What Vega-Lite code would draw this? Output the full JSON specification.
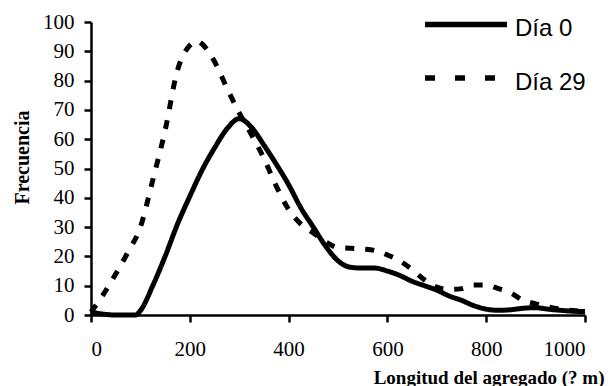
{
  "$schema": "https://vega.github.io/schema/vega-lite/v6.json",
  "width": 494,
  "height": 293,
  "autosize": {"type": "none"},
  "padding": {"left": 91, "top": 22, "right": 25, "bottom": 71},
  "background": "white",
  "config": {
    "view": {"stroke": null},
    "axis": {
      "grid": false,
      "domainColor": "black",
      "domainWidth": 2.5,
      "tickColor": "black",
      "tickWidth": 2.5,
      "tickSize": 7,
      "labelFont": "Liberation Serif",
      "labelFontSize": 21,
      "labelColor": "black",
      "titleFont": "Liberation Serif",
      "titleFontWeight": "bold",
      "titleColor": "black"
    }
  },
  "data": {
    "values": [
      {"serie": "Día 0", "x": 0, "y": 1},
      {"serie": "Día 0", "x": 25, "y": 0.3},
      {"serie": "Día 0", "x": 50, "y": 0},
      {"serie": "Día 0", "x": 75, "y": 0},
      {"serie": "Día 0", "x": 90, "y": 0},
      {"serie": "Día 0", "x": 100, "y": 1.5},
      {"serie": "Día 0", "x": 125, "y": 10},
      {"serie": "Día 0", "x": 150, "y": 20},
      {"serie": "Día 0", "x": 175, "y": 31},
      {"serie": "Día 0", "x": 200, "y": 40.5},
      {"serie": "Día 0", "x": 225, "y": 49.5},
      {"serie": "Día 0", "x": 250, "y": 57},
      {"serie": "Día 0", "x": 275, "y": 63.5},
      {"serie": "Día 0", "x": 300, "y": 67},
      {"serie": "Día 0", "x": 325, "y": 64},
      {"serie": "Día 0", "x": 350, "y": 58},
      {"serie": "Día 0", "x": 375, "y": 51.5},
      {"serie": "Día 0", "x": 400, "y": 44.5},
      {"serie": "Día 0", "x": 425, "y": 36.5},
      {"serie": "Día 0", "x": 450, "y": 30},
      {"serie": "Día 0", "x": 475, "y": 23.5},
      {"serie": "Día 0", "x": 500, "y": 18.5},
      {"serie": "Día 0", "x": 525, "y": 16.3},
      {"serie": "Día 0", "x": 550, "y": 16},
      {"serie": "Día 0", "x": 575, "y": 16},
      {"serie": "Día 0", "x": 600, "y": 15},
      {"serie": "Día 0", "x": 625, "y": 13.5},
      {"serie": "Día 0", "x": 650, "y": 11.5},
      {"serie": "Día 0", "x": 675, "y": 10},
      {"serie": "Día 0", "x": 700, "y": 8.5},
      {"serie": "Día 0", "x": 725, "y": 6.5},
      {"serie": "Día 0", "x": 750, "y": 5},
      {"serie": "Día 0", "x": 775, "y": 3.2},
      {"serie": "Día 0", "x": 800, "y": 2},
      {"serie": "Día 0", "x": 825, "y": 1.6},
      {"serie": "Día 0", "x": 850, "y": 1.8},
      {"serie": "Día 0", "x": 875, "y": 2.3},
      {"serie": "Día 0", "x": 900, "y": 2.5},
      {"serie": "Día 0", "x": 925, "y": 2},
      {"serie": "Día 0", "x": 950, "y": 1.6},
      {"serie": "Día 0", "x": 975, "y": 1.3},
      {"serie": "Día 0", "x": 1000, "y": 1.2},
      {"serie": "Día 29", "x": 0, "y": 1},
      {"serie": "Día 29", "x": 25, "y": 7},
      {"serie": "Día 29", "x": 50, "y": 14},
      {"serie": "Día 29", "x": 75, "y": 21.5},
      {"serie": "Día 29", "x": 100, "y": 30},
      {"serie": "Día 29", "x": 125, "y": 46},
      {"serie": "Día 29", "x": 150, "y": 63},
      {"serie": "Día 29", "x": 175, "y": 83.5},
      {"serie": "Día 29", "x": 200, "y": 92},
      {"serie": "Día 29", "x": 215, "y": 93.5},
      {"serie": "Día 29", "x": 225, "y": 92.5},
      {"serie": "Día 29", "x": 250, "y": 86.5},
      {"serie": "Día 29", "x": 275, "y": 77.5},
      {"serie": "Día 29", "x": 300, "y": 69},
      {"serie": "Día 29", "x": 325, "y": 61.5},
      {"serie": "Día 29", "x": 350, "y": 53.5},
      {"serie": "Día 29", "x": 375, "y": 44},
      {"serie": "Día 29", "x": 400, "y": 36},
      {"serie": "Día 29", "x": 425, "y": 31},
      {"serie": "Día 29", "x": 450, "y": 28},
      {"serie": "Día 29", "x": 475, "y": 25},
      {"serie": "Día 29", "x": 500, "y": 23},
      {"serie": "Día 29", "x": 525, "y": 22.8},
      {"serie": "Día 29", "x": 550, "y": 22.5},
      {"serie": "Día 29", "x": 575, "y": 22},
      {"serie": "Día 29", "x": 600, "y": 20.5},
      {"serie": "Día 29", "x": 625, "y": 18.5},
      {"serie": "Día 29", "x": 650, "y": 15.5},
      {"serie": "Día 29", "x": 675, "y": 12},
      {"serie": "Día 29", "x": 700, "y": 9.5},
      {"serie": "Día 29", "x": 725, "y": 8.7},
      {"serie": "Día 29", "x": 750, "y": 9},
      {"serie": "Día 29", "x": 775, "y": 10.2},
      {"serie": "Día 29", "x": 800, "y": 10.2},
      {"serie": "Día 29", "x": 825, "y": 9},
      {"serie": "Día 29", "x": 850, "y": 7.5},
      {"serie": "Día 29", "x": 875, "y": 5},
      {"serie": "Día 29", "x": 900, "y": 3.8},
      {"serie": "Día 29", "x": 925, "y": 2.8},
      {"serie": "Día 29", "x": 950, "y": 2},
      {"serie": "Día 29", "x": 975, "y": 1.5},
      {"serie": "Día 29", "x": 1000, "y": 1.2}
    ]
  },
  "encoding": {
    "x": {
      "field": "x",
      "type": "quantitative",
      "scale": {"domain": [0, 1000], "nice": false, "zero": false},
      "axis": {
        "values": [0, 200, 400, 600, 800, 1000],
        "format": "d",
        "labelPadding": 16,
        "title": "Longitud del agregado (? m)",
        "titleFontSize": 19,
        "titleAlign": "right",
        "titleAnchor": "end",
        "titleX": 513,
        "titleY": 68,
        "titleBaseline": "alphabetic"
      }
    },
    "y": {
      "field": "y",
      "type": "quantitative",
      "scale": {"domain": [0, 100], "nice": false},
      "axis": {
        "values": [0, 10, 20, 30, 40, 50, 60, 70, 80, 90, 100],
        "format": "d",
        "labelPadding": 10,
        "title": "Frecuencia",
        "titleFontSize": 20,
        "titleAngle": 270,
        "titleAlign": "center",
        "titleBaseline": "middle",
        "titleX": -69,
        "titleY": 135
      }
    }
  },
  "layer": [
    {
      "mark": {"type": "line", "interpolate": "monotone", "strokeWidth": 5, "color": "black", "strokeCap": "butt", "clip": false},
      "encoding": {
        "strokeDash": {
          "field": "serie",
          "type": "nominal",
          "scale": {"domain": ["Día 0", "Día 29"], "range": [[1, 0], [9, 11]]},
          "legend": null
        }
      }
    },
    {
      "transform": [{"filter": "false"}],
      "mark": {"type": "line", "strokeWidth": 5.5, "color": "black", "strokeCap": "butt"},
      "encoding": {
        "strokeDash": {
          "field": "serie",
          "type": "nominal",
          "scale": {"domain": ["Día 0", "Día 29"], "range": [[1, 0], [10, 20]]},
          "legend": {
            "title": null,
            "orient": "none",
            "legendX": 331,
            "legendY": -14.5,
            "padding": 0,
            "symbolType": "stroke",
            "symbolSize": 6724,
            "symbolStrokeWidth": 5.5,
            "symbolStrokeColor": "black",
            "labelFont": "Liberation Sans",
            "labelFontSize": 24,
            "labelColor": "black",
            "labelOffset": 5,
            "clipHeight": 34,
            "rowPadding": 19.5,
            "encode": {
              "labels": {"update": {"dy": {"value": 4.5}}}
            }
          }
        }
      }
    }
  ],
  "resolve": {"scale": {"strokeDash": "independent"}}
}
